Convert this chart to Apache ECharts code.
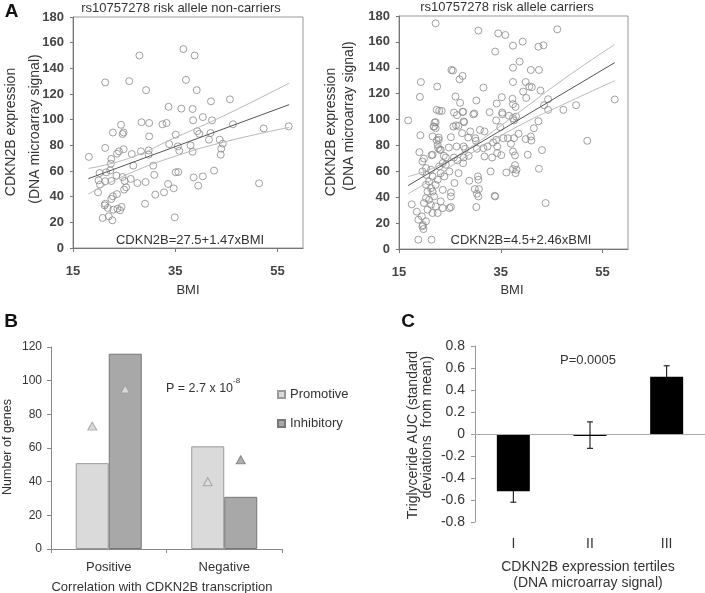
<!DOCTYPE html>
<html>
<head>
<meta charset="utf-8">
<script src="https://cdn.jsdelivr.net/npm/echarts/dist/echarts.min.js"></script>
<style>html,body{margin:0;padding:0;background:#fff}#c{width:705px;height:593px}</style>
</head>
<body>
<div id="c"></div>
<script>
// ---------- Panel A data (BMI, CDKN2B expression) ----------
const nonCarriers = [[18.1,71],[21.3,129],[26,130],[28,150],[36.6,155],[38.8,150],[37.1,131],[29.3,123],[39.2,123],[33.7,110],[36.2,108.6],[38.4,108.3],[42,114.3],[45.7,115.8],[40.4,102],[38.5,99.5],[42.2,99.5],[46.3,96.4],[52.3,93.2],[57.2,94.8],[24.4,96],[22.8,90],[24.9,90],[24.7,88.8],[28.4,98],[29.9,97.4],[32.5,96.4],[33.3,97.4],[29.9,87],[35.1,88.3],[39.3,91],[39.7,89],[41.9,89.6],[33.8,81],[35.5,79.2],[35.8,75.8],[38,80],[38.4,75],[41.6,84.4],[43.7,84.4],[44.3,81.3],[44,77.4],[43.9,72.7],[21.3,78],[22.5,69.4],[23.6,73.5],[24,75.3],[24.9,77],[22.4,65.7],[26.5,73.2],[28.3,75.3],[29.8,76],[29.8,72.7],[26.8,64.2],[30.7,64.2],[30.9,57],[35.1,59],[35.6,59.2],[20.2,58.4],[21.5,59],[22.3,60.5],[23.5,56.4],[24.7,55.3],[26.3,53.8],[20,52.7],[21.3,52],[22.5,52.2],[25.1,52.2],[20.3,49.4],[27.6,50.6],[29.2,51.4],[33.6,49.9],[34.7,46.5],[38.6,55],[40.4,55.8],[39.5,48.6],[42.6,60.3],[51.4,50.4],[19.9,43.4],[25,45.5],[25.4,47.3],[23.6,42],[31.1,41.6],[32.8,43.4],[22.8,40.3],[22.5,38.2],[21.3,34.5],[21.2,33.2],[21.8,31.2],[22.9,29.9],[23.7,30.6],[24.2,29.4],[24.5,32],[29.1,34.5],[20.8,23.4],[22,24.7],[22.7,21.6],[34.9,23.9]];
const carriers = [[16.8,99.3],[22.2,174.3],[30.6,168.7],[34.5,166.6],[35.9,165.3],[46.1,169.7],[33.9,152.5],[39.3,160.2],[37.4,157.1],[42.4,156.3],[43.4,157.4],[38.7,144.8],[37.4,140.1],[40.9,138.3],[42.5,138.3],[25.3,138.3],[25.6,137.8],[27.5,133.7],[26.9,131.1],[31.6,124.7],[19.3,129],[22.5,125.5],[19.1,117.5],[37.4,129],[39.9,129],[40.6,125.5],[41.1,125],[39.4,121.6],[40,116.7],[42.8,122.4],[44.3,115.7],[26.1,117.8],[35.2,117.3],[37.3,116],[30.2,114.7],[27,112.9],[34.2,112.4],[37.4,111.9],[37.9,109.8],[43.5,111.1],[44.3,107.5],[47.3,107.5],[49.8,111.1],[57.4,115.5],[22.4,107.5],[22.9,106.7],[23.4,106.7],[25.8,105.4],[26.4,103.4],[27.6,105.9],[29.8,104.7],[32.8,105.7],[35.3,105.4],[35.3,104.1],[34.1,99.3],[36.6,102.9],[37.4,101],[38,102.3],[37.6,99.3],[42.4,98.7],[22,97.7],[21.8,94.6],[22.2,93.3],[19.2,87.9],[19,74.8],[19.9,69.9],[21.4,72.5],[22.4,83.8],[22.7,77.9],[23,76.6],[22.8,86.1],[25.7,94.6],[26.7,95.1],[27.7,98.5],[25.2,86.4],[27.4,89.5],[28.6,86.1],[29,90.8],[30.9,92],[31.8,90.8],[30,85.6],[24.8,78.4],[26.3,79.2],[27.7,79.2],[28,77.4],[30.3,77.4],[31.6,77.9],[32.4,79.2],[33.5,82.3],[34.1,84.3],[34.9,94.1],[35.5,85.6],[36.4,85.6],[37.6,85.6],[38.5,89],[39.9,84.9],[40.9,86.9],[41,83.8],[41.5,93.3],[37,81.3],[37.4,75.3],[37.8,72.3],[34.3,74.1],[35.1,72.5],[34.3,79.2],[40.3,72.8],[43.1,76.4],[52,83.6],[30.1,83.6],[31.8,71.5],[33.3,70.7],[27.7,70.7],[28.7,72],[26.5,68.4],[27.6,66.3],[25.8,70.7],[24.2,70.7],[23.8,72],[37.8,64.8],[38.1,61.2],[37.9,58.6],[37.4,61.7],[36.1,59.1],[33,59.9],[42.5,62],[26.7,58.6],[30.5,56.1],[30.6,53.5],[28.8,52.7],[29.9,46.3],[30.7,46.3],[30.3,42.7],[30.6,40.6],[33.8,41.1],[33.9,40.6],[25.2,43.7],[30.2,32.4],[25.2,32.4],[43.8,35.5],[17.5,34.5],[18.5,28.8],[18.8,22.6],[19.5,25.2],[19.7,18.5],[19.8,15.4],[18.8,7.2],[21.4,7.2],[21.6,86.9],[22.8,84.3],[22.6,80.5],[23.2,76.6],[21.6,72.8],[19.6,67.6],[20.3,62.5],[19.6,59.9],[20.4,57.3],[21.3,61.2],[21.6,56],[20.9,52.2],[20.3,49.6],[21.3,47],[20.6,44.4],[21.6,44.4],[22.2,49.6],[22.6,53.5],[23.2,58.6],[22.9,63.8],[24.2,65.1],[23.6,66.4],[23.9,56],[24.9,59.9],[23.6,45.7],[20.3,39.3],[19.9,35.5],[20.9,38],[21.9,40.6],[21.3,34.2],[22.2,32.9],[23.2,36.8],[23.6,31.6],[20.6,30.4],[21.6,27.8],[22.6,27.8],[20.3,21.4],[19.6,17.5],[25.2,40.6],[25.9,51],[24.9,31.6],[22.2,98],[21.9,94.6],[26.2,95.5],[27.8,98],[29.6,104],[27.5,106]];
const nonCarrierFit = [[18,54],[57.3,111.7]];
const nonCarrierUpper = [[18,62],[26,70],[35,86],[45,104],[57.3,128.5]];
const nonCarrierLower = [[18,42],[26,58],[35,71.5],[45,83],[57.3,94]];
const carrierFit = [[16.8,49],[57.4,144]];
const carrierUpper = [[16.8,56],[22,63],[28,76],[38,104],[48,133],[57.4,158]];
const carrierLower = [[16.8,42.7],[22,55],[28,71],[38,94],[48,113],[57.4,130]];
const bmiTicks = [15,35,55];

// ---------- Panel B data ----------
const bCategories = ['Positive','Negative'];
const promotive = [51, 61];
const inhibitory = [116, 31];
const promotiveTriangle = [73, 40];
const inhibitoryTriangle = [95, 53];

// ---------- Panel C data ----------
const cCategories = ['I','II','III'];
const tgAUC = [-0.52, -0.01, 0.52];
const tgErr = [0.10, 0.12, 0.10];

const FONT = "'Liberation Sans', Arial, sans-serif";
const TXT = '#333';

function scatterAxes(gi){
  return {
    x: {gridIndex:gi, type:'value', min:15, max:60, interval:5,
      axisLine:{show:true, lineStyle:{color:'#777', width:1}},
      axisTick:{show:true, customValues:bmiTicks, length:4, lineStyle:{color:'#777'}},
      axisLabel:{customValues:bmiTicks, margin:17, fontSize:13, fontWeight:'bold', color:'#444', fontFamily:FONT},
      splitLine:{show:false}},
    y: {gridIndex:gi, type:'value', min:0, max:180, interval:20,
      axisLine:{show:true, lineStyle:{color:'#777', width:1}},
      axisTick:{show:true, length:3, lineStyle:{color:'#777'}},
      axisLabel:{margin:9, fontSize:13, fontWeight:'bold', color:'#444', fontFamily:FONT},
      splitLine:{show:false}}
  };
}
const a0 = scatterAxes(0), a1 = scatterAxes(1);

function scatterSeries(gi, data){
  return {type:'scatter', xAxisIndex:gi, yAxisIndex:gi, data:data, symbol:'circle', symbolSize:7,
    itemStyle:{color:'rgba(0,0,0,0)', borderColor:'#888', borderWidth:1}, z:2};
}
function lineSeries(gi, data, color, smooth){
  return {type:'line', xAxisIndex:gi, yAxisIndex:gi, data:data, showSymbol:false, smooth:smooth,
    lineStyle:{color:color, width:1}, z:3};
}

function txt(text, x, y, size, opts){
  opts = opts || {};
  return {type:'text', x:x, y:y, rotation:opts.rot||0, z:100,
    style:{text:text, font:(opts.weight||'normal')+' '+size+'px '+FONT, fill:opts.color||TXT,
      align:opts.align||'center', verticalAlign:'middle', textAlign:opts.align||'center', textVerticalAlign:'middle'}};
}

const option = {
  animation:false,
  backgroundColor:'#fff',
  grid:[
    {left:73, top:17, width:230, height:231, show:true, borderColor:'#999', borderWidth:1, backgroundColor:'transparent'},
    {left:399, top:16, width:229, height:233, show:true, borderColor:'#999', borderWidth:1, backgroundColor:'transparent'},
    {left:51, top:347, width:231, height:202},
    {left:475, top:346, width:230, height:176}
  ],
  legend:{data:['Promotive','Inhibitory'], orient:'vertical', left:277, top:388, itemWidth:7, itemHeight:7, itemGap:16,
    icon:'rect', padding:0, textStyle:{fontSize:13, color:TXT, fontFamily:FONT}},
  xAxis:[a0.x, a1.x,
    {gridIndex:2, type:'category', data:bCategories,
      axisLine:{show:true, lineStyle:{color:'#888'}}, axisTick:{show:true, length:4, lineStyle:{color:'#888'}},
      axisLabel:{margin:12, fontSize:13, color:TXT, fontFamily:FONT}},
    {gridIndex:3, type:'category', data:cCategories,
      axisLine:{show:false}, axisTick:{show:false},
      axisLabel:{margin:15, fontSize:14, color:TXT, fontFamily:FONT}}
  ],
  yAxis:[a0.y, a1.y,
    {gridIndex:2, type:'value', min:0, max:120, interval:20,
      axisLine:{show:true, lineStyle:{color:'#888'}}, axisTick:{show:true, length:4, lineStyle:{color:'#888'}},
      axisLabel:{margin:9, fontSize:12, color:TXT, fontFamily:FONT}, splitLine:{show:false}},
    {gridIndex:3, type:'value', min:-0.8, max:0.8, interval:0.2,
      axisLine:{show:true, lineStyle:{color:'#999'}}, axisTick:{show:true, length:4, lineStyle:{color:'#999'}},
      axisLabel:{margin:10, fontSize:14, color:TXT, fontFamily:FONT}, splitLine:{show:false}}
  ],
  series:[
    scatterSeries(0, nonCarriers),
    lineSeries(0, nonCarrierUpper, '#b8b8b8', true),
    lineSeries(0, nonCarrierLower, '#b8b8b8', true),
    lineSeries(0, nonCarrierFit, '#555', false),
    scatterSeries(1, carriers),
    lineSeries(1, carrierUpper, '#b8b8b8', true),
    lineSeries(1, carrierLower, '#b8b8b8', true),
    lineSeries(1, carrierFit, '#555', false),
    {name:'Promotive', type:'bar', xAxisIndex:2, yAxisIndex:2, data:promotive, barWidth:33, barGap:'0%',
      itemStyle:{color:'#dadada', borderColor:'#9a9a9a', borderWidth:1}},
    {name:'Inhibitory', type:'bar', xAxisIndex:2, yAxisIndex:2, data:inhibitory, barWidth:33, barGap:'0%',
      itemStyle:{color:'#a8a8a8', borderColor:'#777', borderWidth:1}},
    {name:'Promotive expected', type:'scatter', xAxisIndex:2, yAxisIndex:2, symbol:'triangle', symbolSize:[9,8],
      symbolOffset:[-16.5,0], z:5,
      data:[{value:promotiveTriangle[0], itemStyle:{color:'#d0d0d0', borderColor:'#999', borderWidth:1}},
            {value:promotiveTriangle[1], itemStyle:{color:'#dedede', borderColor:'#999', borderWidth:1}}]},
    {name:'Inhibitory expected', type:'scatter', xAxisIndex:2, yAxisIndex:2, symbol:'triangle', symbolSize:[9,8],
      symbolOffset:[16.5,0], z:5,
      data:[{value:inhibitoryTriangle[0], itemStyle:{color:'#e4e4e4', borderColor:'#999', borderWidth:1}},
            {value:inhibitoryTriangle[1], itemStyle:{color:'#999', borderColor:'#777', borderWidth:1}}]},
    {type:'bar', xAxisIndex:3, yAxisIndex:3, data:tgAUC, barWidth:33, barMinHeight:2, itemStyle:{color:'#000'}, z:4,
      markLine:{silent:true, symbol:['none','none'], label:{show:false}, lineStyle:{color:'#aaa', width:1, type:'solid'},
        data:[{yAxis:0}]}},
    {type:'custom', xAxisIndex:3, yAxisIndex:3, encode:{x:0, y:1}, z:5,
      data:cCategories.map((c,i)=>[i, tgAUC[i], tgErr[i]]),
      renderItem:function(params, api){
        const i = api.value(0), v = api.value(1), e = api.value(2);
        const hi = api.coord([i, v+e]), lo = api.coord([i, v-e]);
        const cap = 3, st = {stroke:'#000', lineWidth:1};
        return {type:'group', children:[
          {type:'line', shape:{x1:hi[0], y1:hi[1], x2:lo[0], y2:lo[1]}, style:st},
          {type:'line', shape:{x1:hi[0]-cap, y1:hi[1], x2:hi[0]+cap, y2:hi[1]}, style:st},
          {type:'line', shape:{x1:lo[0]-cap, y1:lo[1], x2:lo[0]+cap, y2:lo[1]}, style:st}
        ]};
      }}
  ],
  graphic:[
    txt('A', 11.5, 12, 19, {weight:'bold', color:'#111'}),
    txt('rs10757278 risk allele non-carriers', 181, 8, 13),
    txt('rs10757278 risk allele carriers', 507, 7, 13),
    txt('CDKN2B expression', 11, 132, 14, {rot:Math.PI/2}),
    txt('(DNA microarray signal)', 35, 129, 14, {rot:Math.PI/2}),
    txt('CDKN2B expression', 331, 132, 14, {rot:Math.PI/2}),
    txt('(DNA microarray signal)', 349, 116, 14, {rot:Math.PI/2}),
    txt('CDKN2B=27.5+1.47xBMI', 190, 240, 13),
    txt('CDKN2B=4.5+2.46xBMI', 521, 240, 13),
    txt('BMI', 188, 290, 13),
    txt('BMI', 512, 290, 13),
    txt('B', 11, 322, 19, {weight:'bold', color:'#111'}),
    txt('Number of genes', 8, 447, 12.5, {rot:Math.PI/2}),
    txt('Correlation with CDKN2B transcription', 162, 587, 13),
    {type:'text', x:166, y:386, z:100, style:{text:'{a|P = 2.7 x 10}{b|-8}', align:'left', verticalAlign:'middle',
      textAlign:'left', textVerticalAlign:'middle',
      rich:{a:{fontSize:12.5, fontFamily:FONT, fill:TXT, color:TXT, lineHeight:18, verticalAlign:'bottom'},
            b:{fontSize:8, fontFamily:FONT, fill:TXT, color:TXT, verticalAlign:'top'}}}},
    txt('C', 408, 322, 19, {weight:'bold', color:'#111'}),
    txt('Triglyceride AUC (standard', 413, 435, 14, {rot:Math.PI/2}),
    txt('deviations  from mean)', 427, 427, 14, {rot:Math.PI/2}),
    txt('P=0.0005', 588, 360, 13),
    txt('CDKN2B expression tertiles', 588, 567, 14),
    txt('(DNA microarray signal)', 588, 583, 14)
  ]
};
const chart = echarts.init(document.getElementById('c'), null, {renderer:'canvas'});
chart.setOption(option);
</script>
</body>
</html>
